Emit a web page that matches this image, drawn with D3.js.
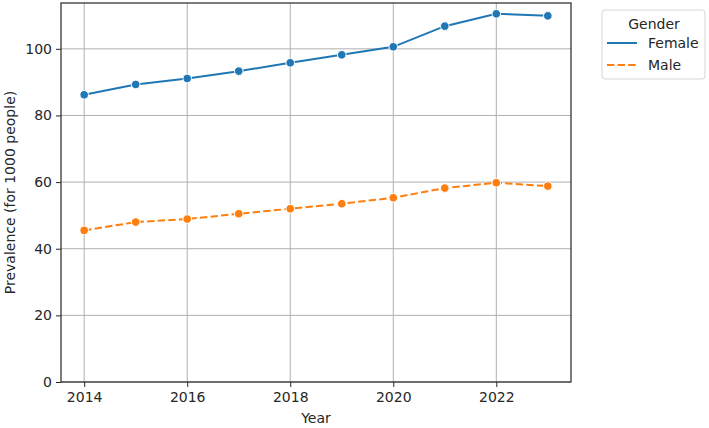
<!DOCTYPE html>
<html>
<head>
<meta charset="utf-8">
<script src="https://cdn.jsdelivr.net/npm/d3@7"></script>
<style>
	body { margin: 0; background: #fff; }
	text { font-family: "DejaVu Sans", sans-serif; fill: #262626; }
	.axis text { font-size: 14px; }
	.axis path, .axis line { stroke: #262626; }
	.grid line { stroke: #b0b0b0; stroke-width: 1; }
</style>
</head>
<body>
<script>
var years = [2014, 2015, 2016, 2017, 2018, 2019, 2020, 2021, 2022, 2023];
var female = [86.2, 89.3, 91.1, 93.3, 95.8, 98.2, 100.6, 106.8, 110.5, 109.9];
var male = [45.5, 48.0, 48.9, 50.5, 52.0, 53.5, 55.3, 58.2, 59.8, 58.8];
var genders = ["Female", "Male"];
var xTicks = [2014, 2016, 2018, 2020, 2022];
var yTicks = [0, 20, 40, 60, 80, 100];

var w = 709, h = 428;
var plotL = 61, plotR = 571, plotT = 3, plotB = 382;

var svg = d3.select("body").append("svg")
	.attr("width", w)
	.attr("height", h);

var x = d3.scaleLinear().domain([2013.55, 2023.45]).range([plotL, plotR]);
var y = d3.scaleLinear().domain([0, 113.75]).range([plotB, plotT]);

// grid
svg.append("g").attr("class", "grid")
	.selectAll("line").data(xTicks).enter().append("line")
	.attr("x1", d => x(d)).attr("x2", d => x(d))
	.attr("y1", plotT).attr("y2", plotB);
svg.append("g").attr("class", "grid")
	.selectAll("line").data(yTicks).enter().append("line")
	.attr("x1", plotL).attr("x2", plotR)
	.attr("y1", d => y(d)).attr("y2", d => y(d));

// axes
var xAxis = d3.axisBottom(x).tickValues(xTicks).tickFormat(d3.format("d")).tickSize(5).tickPadding(5);
var yAxis = d3.axisLeft(y).tickValues(yTicks).tickSize(5).tickPadding(4);

svg.append("g").attr("class", "axis")
	.attr("transform", "translate(0," + plotB + ")")
	.call(xAxis)
	.call(g => g.select(".domain").remove());
svg.append("g").attr("class", "axis")
	.attr("transform", "translate(" + plotL + ",0)")
	.call(yAxis)
	.call(g => g.select(".domain").remove());

// series
var series = [
	{name: "Female", values: female, color: "#1f77b4", dash: null},
	{name: "Male", values: male, color: "#ff7f0e", dash: "7.4,3.2"}
];

var line = d3.line().x((d, i) => x(years[i])).y(d => y(d));

series.forEach(s => {
	svg.append("path")
		.datum(s.values)
		.attr("d", line)
		.attr("fill", "none")
		.attr("stroke", s.color)
		.attr("stroke-width", 2)
		.attr("stroke-dasharray", s.dash);
	svg.selectAll("circle." + s.name)
		.data(s.values)
		.enter().append("circle")
		.attr("class", s.name)
		.attr("cx", (d, i) => x(years[i]))
		.attr("cy", d => y(d))
		.attr("r", 4.3)
		.attr("fill", s.color)
		.attr("stroke", "#fff")
		.attr("stroke-width", 1);
});

// frame
svg.append("rect")
	.attr("x", plotL).attr("y", plotT)
	.attr("width", plotR - plotL).attr("height", plotB - plotT)
	.attr("fill", "none")
	.attr("stroke", "#262626")
	.attr("stroke-width", 1.2);

// labels
svg.append("text")
	.text("Year")
	.attr("x", (plotL + plotR) / 2)
	.attr("y", 423)
	.attr("text-anchor", "middle")
	.attr("font-size", "14px");

svg.append("text")
	.text("Prevalence (for 1000 people)")
	.attr("transform", "translate(15," + ((plotT + plotB) / 2) + ") rotate(-90)")
	.attr("text-anchor", "middle")
	.attr("font-size", "14px");

// legend
var lg = svg.append("g");
lg.append("rect")
	.attr("x", 602).attr("y", 10)
	.attr("width", 103).attr("height", 69)
	.attr("rx", 3)
	.attr("fill", "#fff")
	.attr("stroke", "#d6d6d6");
lg.append("text")
	.text("Gender")
	.attr("x", 654).attr("y", 29)
	.attr("text-anchor", "middle")
	.attr("font-size", "14px");
series.forEach((s, i) => {
	var yy = 43 + i * 22;
	lg.append("line")
		.attr("x1", 607).attr("x2", 637)
		.attr("y1", yy).attr("y2", yy)
		.attr("stroke", s.color)
		.attr("stroke-width", 2)
		.attr("stroke-dasharray", s.dash);
	lg.append("text")
		.text(genders[i])
		.attr("x", 648).attr("y", yy + 5)
		.attr("font-size", "14px");
});
</script>
</body>
</html>
